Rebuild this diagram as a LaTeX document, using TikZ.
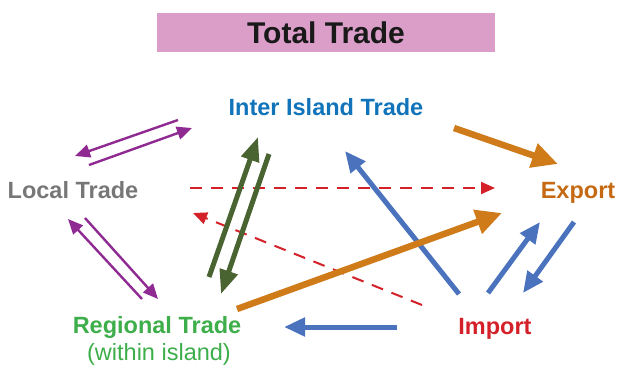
\documentclass[tikz,border=0pt]{standalone}
\usepackage{fontspec}
\setmainfont{Liberation Sans}
\usetikzlibrary{arrows.meta}

\definecolor{titlepink}{HTML}{DA9EC8}
\definecolor{islandblue}{HTML}{1174BA}
\definecolor{localgray}{HTML}{777777}
\definecolor{exportorange}{HTML}{C56A12}
\definecolor{regiongreen}{HTML}{3DAE4A}
\definecolor{importred}{HTML}{D42129}
\definecolor{linkpurple}{HTML}{8E2A91}
\definecolor{linkgreen}{HTML}{4A6431}
\definecolor{linkorange}{HTML}{D07B1A}
\definecolor{linkblue}{HTML}{4A72BD}

\begin{document}
\begin{tikzpicture}[x=1pt,y=-1pt,
  lbl/.style={font=\fontsize{23.5}{27}\selectfont\bfseries,inner sep=0pt,anchor=base},
  purplelink/.style={linkpurple,line width=2.4pt,-{Triangle[length=15pt,width=13pt]}},
  greenlink/.style={linkgreen,line width=5pt,-{Triangle[length=24pt,width=18pt]}},
  orangelink/.style={linkorange,line width=6.5pt,-{Triangle[length=26pt,width=24pt]}},
  bluelink/.style={linkblue,line width=5pt,-{Triangle[length=21pt,width=18pt]}},
  redlink/.style={importred,line width=2pt,dash pattern=on 12pt off 9pt,-{Triangle[length=14pt,width=12pt]}}]
\useasboundingbox (0,0) rectangle (618,365);

% title and labels
\node[fill=titlepink,minimum width=338pt,minimum height=39pt,inner sep=0pt,
      font=\fontsize{30}{34}\selectfont\bfseries,text=black!90] (title) at (326,32.5) {Total Trade};
\node[lbl,text=islandblue] (island) at (326,115) {Inter Island Trade};
\node[lbl,text=localgray] (local) at (73,198) {Local Trade};
\node[lbl,text=exportorange] (export) at (578,198) {Export};
\node[lbl,text=regiongreen] (regional) at (157,333) {Regional Trade};
\node[font=\fontsize{23.5}{27}\selectfont,text=regiongreen,inner sep=0pt,anchor=base] (within) at (159,360) {(within island)};
\node[lbl,text=importred] (import) at (495,334) {Import};

% end points of the links
\coordinate (p1s) at (178,120);  \coordinate (p1e) at (75,156);
\coordinate (p2s) at (89,165);   \coordinate (p2e) at (192,128);
\coordinate (p3s) at (142,299);  \coordinate (p3e) at (68,219);
\coordinate (p4s) at (85,218);   \coordinate (p4e) at (158,299);
\coordinate (g1s) at (209,277);  \coordinate (g1e) at (258,137);
\coordinate (g2s) at (269,154);  \coordinate (g2e) at (221,294);
\coordinate (r1s) at (190,188);  \coordinate (r1e) at (495,188);
\coordinate (r2s) at (422,305);  \coordinate (r2e) at (193,213);
\coordinate (o1s) at (454,128);  \coordinate (o1e) at (558,164);
\coordinate (o2s) at (237,309);  \coordinate (o2e) at (502,213);
\coordinate (b1s) at (459,294);  \coordinate (b1e) at (345,151);
\coordinate (b2s) at (488,293);  \coordinate (b2e) at (540,222);
\coordinate (b3s) at (574,222);  \coordinate (b3e) at (523,293);
\coordinate (b4s) at (397,327);  \coordinate (b4e) at (284,327);

\draw[redlink] (r1s) -- (r1e);
\draw[redlink] (r2s) -- (r2e);
\foreach \a in {p1,p2,p3,p4} \draw[purplelink] (\a s) -- (\a e);
\foreach \a in {g1,g2} \draw[greenlink] (\a s) -- (\a e);
\foreach \a in {b1,b2,b3,b4} \draw[bluelink] (\a s) -- (\a e);
\foreach \a in {o1,o2} \draw[orangelink] (\a s) -- (\a e);
\end{tikzpicture}
\end{document}
